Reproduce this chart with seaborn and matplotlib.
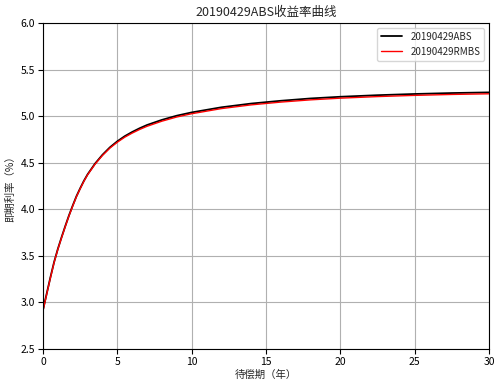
import matplotlib
matplotlib.use("Agg")
import matplotlib.pyplot as plt
import seaborn as sns
import pandas as pd

term = [0, 0.25, 0.5, 0.75, 1.0, 1.25, 1.5, 1.75, 2.0, 2.25, 2.5, 2.75, 3.0, 3.5, 4.0, 4.5, 5.0,
        5.5, 6.0, 6.5, 7.0, 8.0, 9.0, 10, 12, 14, 16, 18, 20, 22.5, 25, 27.5, 30]
abs_rate = [2.92, 3.095, 3.27, 3.435, 3.575, 3.70, 3.82, 3.935, 4.04, 4.14, 4.225, 4.305, 4.375,
            4.49, 4.585, 4.665, 4.73, 4.785, 4.83, 4.87, 4.905, 4.96, 5.005, 5.04, 5.095, 5.135,
            5.165, 5.19, 5.208, 5.225, 5.238, 5.248, 5.255]
rmbs_rate = [2.91, 3.088, 3.264, 3.43, 3.57, 3.695, 3.815, 3.93, 4.035, 4.135, 4.22, 4.30, 4.37,
             4.484, 4.578, 4.657, 4.72, 4.774, 4.818, 4.857, 4.891, 4.946, 4.991, 5.026, 5.081,
             5.121, 5.151, 5.175, 5.193, 5.21, 5.223, 5.233, 5.24]
series_names = ["20190429ABS", "20190429RMBS"]
title = "20190429ABS收益率曲线"
xlabel = "待偿期（年）"
ylabel = "即期利率（%）"

sns.set_theme(style="white")
plt.rcParams["font.family"] = ["Noto Sans CJK SC", "DejaVu Sans"]
plt.rcParams["axes.unicode_minus"] = False

df = pd.concat([
    pd.DataFrame({"term": term, "rate": abs_rate, "series": series_names[0]}),
    pd.DataFrame({"term": term, "rate": rmbs_rate, "series": series_names[1]}),
])

fig = plt.figure(figsize=(5.01, 3.84), dpi=100)
ax = fig.add_axes([0.0858, 0.0911, 0.8902, 0.849])

sns.lineplot(data=df, x="term", y="rate", hue="series", palette=["black", "red"],
             ax=ax, sort=True, estimator=None)
lines = ax.get_lines()
lines[0].set_linewidth(1.3)
lines[1].set_linewidth(1.0)

ax.set_xlim(0, 30)
ax.set_ylim(2.5, 6.0)
ax.set_xticks([0, 5, 10, 15, 20, 25, 30])
yt = [2.5, 3.0, 3.5, 4.0, 4.5, 5.0, 5.5, 6.0]
ax.set_yticks(yt)
ax.set_yticklabels([f"{v:.1f}" for v in yt])
ax.grid(True, color="#b0b0b0", linewidth=0.8)
ax.tick_params(axis="both", labelsize=7.5, length=3.5, width=0.8, direction="out",
               bottom=True, left=True, colors="black", pad=2)
for s in ax.spines.values():
    s.set_color("black")
    s.set_linewidth(0.8)
ax.set_title(title, fontsize=9, pad=5)
ax.set_xlabel(xlabel, fontsize=7.5, labelpad=2)
ax.set_ylabel(ylabel, fontsize=7.5, labelpad=4)

leg = ax.legend(loc="upper right", fontsize=7, frameon=True, fancybox=True,
                framealpha=0.8, edgecolor="#cccccc", title=None, handlelength=2.2)
leg.get_lines()[0].set_linewidth(1.3)
leg.get_lines()[1].set_linewidth(1.0)

fig.savefig("out.png", dpi=100)
